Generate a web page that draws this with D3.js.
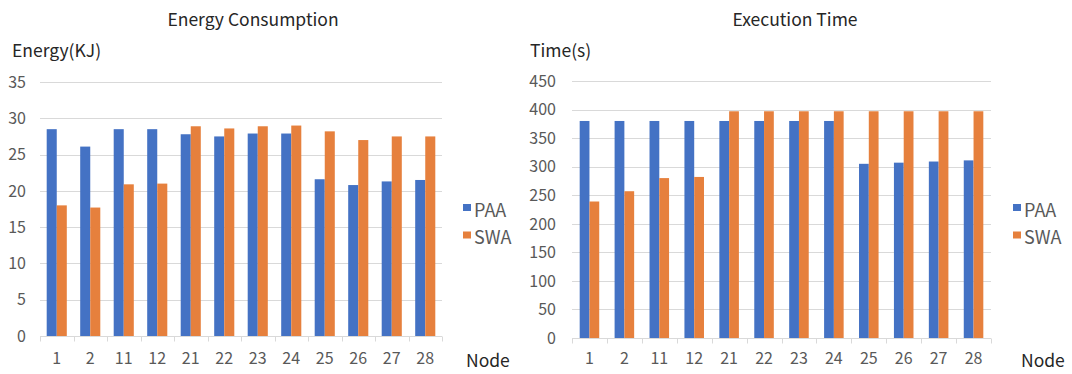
<!DOCTYPE html>
<html>
<head>
<meta charset="utf-8">
<script src="https://cdn.jsdelivr.net/npm/d3@7"></script>
<style>
  html, body { margin: 0; padding: 0; background: #fff; }
  svg { display: block; font-family: "Noto Sans CJK SC", "Noto Sans", sans-serif; }
</style>
</head>
<body>
<svg id="chart" width="1072" height="374"></svg>
<script>
// Node identifiers along the x axis
const nodes = ["1", "2", "11", "12", "21", "22", "23", "24", "25", "26", "27", "28"];
const seriesNames = ["PAA", "SWA"];

// Energy consumption (KJ)
const energyPAA = [28.5, 26.1, 28.5, 28.5, 27.8, 27.5, 27.9, 27.9, 21.6, 20.8, 21.3, 21.5];
const energySWA = [18.0, 17.7, 20.9, 21.0, 28.9, 28.6, 28.9, 29.0, 28.2, 27.0, 27.5, 27.5];
const energyTicks = [0, 5, 10, 15, 20, 25, 30, 35];

// Execution time (s)
const timePAA = [380, 380, 380, 380, 380, 380, 380, 380, 305, 307, 309, 311];
const timeSWA = [239, 257, 280, 282, 397, 397, 397, 397, 397, 397, 397, 397];
const timeTicks = [0, 50, 100, 150, 200, 250, 300, 350, 400, 450];

const colors = { PAA: "#4472C4", SWA: "#E6803D" };

const svg = d3.select("#chart");

function drawPanel(cfg) {
  const g = svg.append("g");
  const x = d3.scaleBand().domain(nodes)
    .range([cfg.left, cfg.right])
    .paddingInner(cfg.pad).paddingOuter(cfg.pad / 2);
  const xs = d3.scaleBand().domain(seriesNames).range([0, x.bandwidth()]);
  const y = d3.scaleLinear().domain([0, d3.max(cfg.ticks)]).range([cfg.bottom, cfg.top]);

  // horizontal gridlines
  g.append("g").selectAll("line").data(cfg.ticks.filter(t => t > 0)).join("line")
    .attr("x1", cfg.left).attr("x2", cfg.right)
    .attr("y1", d => Math.round(y(d)) + 0.5).attr("y2", d => Math.round(y(d)) + 0.5)
    .attr("stroke", "#d9d9d9").attr("stroke-width", 1);

  // y tick labels
  g.append("g").selectAll("text").data(cfg.ticks).join("text")
    .attr("x", cfg.labelX).attr("y", d => y(d))
    .attr("dy", "0.36em")
    .attr("text-anchor", "end")
    .attr("fill", "#595959").attr("font-size", 16)
    .text(d => d);

  // bars
  const data = nodes.map((n, i) => ({ node: n, PAA: cfg.a[i], SWA: cfg.b[i] }));
  g.append("g").selectAll("g").data(data).join("g")
    .attr("transform", d => `translate(${x(d.node)},0)`)
    .selectAll("rect").data(d => seriesNames.map(s => ({ s, v: d[s] }))).join("rect")
    .attr("x", d => xs(d.s)).attr("width", xs.bandwidth())
    .attr("y", d => y(d.v)).attr("height", d => y(0) - y(d.v))
    .attr("fill", d => colors[d.s]);

  // x axis line with ticks at category boundaries
  const by = Math.round(y(0)) + 0.5;
  g.append("line").attr("x1", cfg.left).attr("x2", cfg.right)
    .attr("y1", by).attr("y2", by).attr("stroke", "#d9d9d9");
  const bounds = nodes.map(n => x(n) - (x.step() - x.bandwidth()) / 2).concat([cfg.right]);
  g.append("g").selectAll("line").data(bounds).join("line")
    .attr("x1", d => Math.round(d) + 0.5).attr("x2", d => Math.round(d) + 0.5)
    .attr("y1", by).attr("y2", by + 5)
    .attr("stroke", "#d9d9d9");

  // x tick labels
  g.append("g").selectAll("text").data(nodes).join("text")
    .attr("x", d => x(d) + x.bandwidth() / 2).attr("y", 364)
    .attr("text-anchor", "middle")
    .attr("fill", "#595959").attr("font-size", 16)
    .text(d => d);

  // titles
  g.append("text").attr("x", cfg.titleX).attr("y", 26)
    .attr("text-anchor", "middle").attr("fill", "#262626").attr("font-size", 17.5)
    .text(cfg.title);
  g.append("text").attr("x", cfg.yTitleX).attr("y", 57)
    .attr("fill", "#262626").attr("font-size", 17.5)
    .text(cfg.yTitle);
  g.append("text").attr("x", cfg.nodeX).attr("y", 367)
    .attr("fill", "#262626").attr("font-size", 17.5)
    .text("Node");

  // legend
  const lg = g.append("g").attr("transform", `translate(${cfg.legendX},0)`);
  seriesNames.forEach((s, i) => {
    const ly = 204 + i * 27.5;
    lg.append("rect").attr("x", 0).attr("y", ly).attr("width", 8).attr("height", 7)
      .attr("fill", colors[s]);
    lg.append("text").attr("x", 11).attr("y", ly + 12.5)
      .attr("fill", "#595959").attr("font-size", 18)
      .text(s);
  });
}

drawPanel({
  a: energyPAA, b: energySWA, ticks: energyTicks,
  left: 40, right: 442, top: 82, bottom: 336, pad: 0.4,
  labelX: 26, title: "Energy Consumption", titleX: 253,
  yTitle: "Energy(KJ)", yTitleX: 12, nodeX: 466, legendX: 463
});

drawPanel({
  a: timePAA, b: timeSWA, ticks: timeTicks,
  left: 572, right: 991, top: 81, bottom: 338, pad: 0.44,
  labelX: 556, title: "Execution Time", titleX: 795,
  yTitle: "Time(s)", yTitleX: 530, nodeX: 1021, legendX: 1013
});
</script>
</body>
</html>
